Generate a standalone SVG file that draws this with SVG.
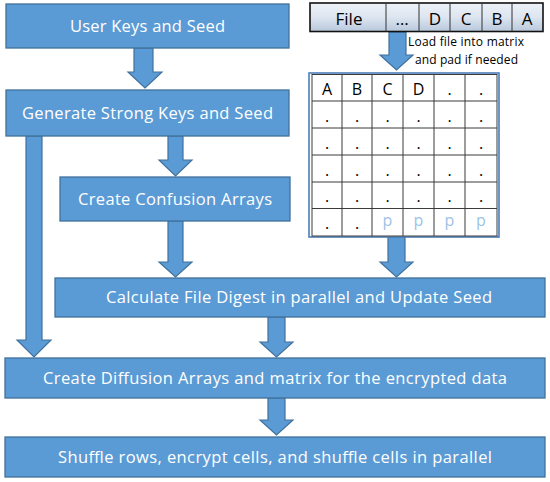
<svg xmlns="http://www.w3.org/2000/svg" width="550" height="482" viewBox="0 0 550 482">
<defs>
<linearGradient id="strip" x1="0" y1="0" x2="0" y2="1">
<stop offset="0" stop-color="#eef2f8"/>
<stop offset="0.5" stop-color="#dde5f0"/>
<stop offset="1" stop-color="#b9c8dc"/>
</linearGradient>
<style>
.box{fill:#5b9bd5;stroke:#41719c;stroke-width:1.3}
.arr{fill:#5b9bd5;stroke:#41719c;stroke-width:1.2}
.bt{font-family:"Open Sans","Liberation Sans",sans-serif;font-size:16.5px;fill:#ffffff;text-anchor:middle}
.st{font-family:"Open Sans","Liberation Sans",sans-serif;font-size:17px;fill:#000;text-anchor:middle}
.sm{font-family:"Open Sans","Liberation Sans",sans-serif;font-size:12px;fill:#000}
.mt{font-family:"Open Sans","Liberation Sans",sans-serif;font-size:16px;fill:#000;text-anchor:middle}
.pd{fill:#9dc3e6}
.grid{fill:none;stroke:#3a3a3a;stroke-width:1}
</style>
</defs>
<g id="connectors">
<path class="arr" d="M134,48 H153 V72 H162 L145,88 L128,72 H134 Z"/>
<path class="arr" d="M168,136 H183 V160 H192 L175.5,176 L159,160 H168 Z"/>
<path class="arr" d="M168,221 H183 V262 H192 L175.5,277 L159,262 H168 Z"/>
<path class="arr" d="M389,32 H406 V55 H413 L396.5,70 L380,55 H389 Z"/>
<path class="arr" d="M388,237 H405 V262 H413 L396.5,277 L380,262 H388 Z"/>
<path class="arr" d="M268,317 H285 V342 H293 L276.5,357 L260,342 H268 Z"/>
<path class="arr" d="M268,398 H285 V420 H293 L276.5,435 L260,420 H268 Z"/>
<path class="arr" d="M26,136 H42 V340 H51 L34,357 L17,340 H26 Z"/>
</g>
<g id="n1">
<rect class="box" x="6" y="4" width="283" height="44"/>
<text class="bt" x="147.5" y="32" textLength="155">User Keys and Seed</text>
</g>
<g id="n2">
<rect class="box" x="6" y="90" width="283" height="46"/>
<text class="bt" x="147.5" y="119" textLength="251">Generate Strong Keys and Seed</text>
</g>
<g id="n3">
<rect class="box" x="60" y="177" width="230" height="44"/>
<text class="bt" x="175" y="205" textLength="194">Create Confusion Arrays</text>
</g>
<g id="n4">
<rect class="box" x="55" y="278" width="490" height="39"/>
<text class="bt" x="299" y="303" textLength="386">Calculate File Digest in parallel and Update Seed</text>
</g>
<g id="n5">
<rect class="box" x="5" y="358" width="540" height="40"/>
<text class="bt" x="275" y="384" textLength="464">Create Diffusion Arrays and matrix for the encrypted data</text>
</g>
<g id="n6">
<rect class="box" x="5" y="437" width="540" height="40"/>
<text class="bt" x="275" y="463" textLength="434">Shuffle rows, encrypt cells, and shuffle cells in parallel</text>
</g>
<g id="file">
<rect x="310" y="3" width="233" height="28.5" fill="url(#strip)" stroke="#111" stroke-width="1.6"/>
<path d="M386,3 V31.5 M419,3 V31.5 M450,3 V31.5 M482,3 V31.5 M512,3 V31.5" stroke="#333" stroke-width="1"/>
<text class="st" x="349" y="25">File</text>
<text class="st" x="402" y="25">…</text>
<text class="st" x="435" y="25">D</text>
<text class="st" x="466" y="25">C</text>
<text class="st" x="497" y="25">B</text>
<text class="st" x="527" y="25">A</text>
</g>
<g id="label">
<text class="sm" x="408" y="46" textLength="116">Load file into matrix</text>
<text class="sm" x="415" y="64" textLength="103">and pad if needed</text>
</g>
<g id="matrix">
<rect x="309" y="73" width="190" height="164" fill="#fff" stroke="#4a7ebb" stroke-width="1.6"/>
<rect class="grid" x="312" y="74.5" width="185" height="161.5"/>
<path class="grid" d="M342,74.5 V236 M372,74.5 V236 M403,74.5 V236 M434,74.5 V236 M465,74.5 V236 M312,101 H497 M312,128 H497 M312,155 H497 M312,182 H497 M312,208.5 H497"/>
<g class="mt">
<text x="327" y="95">A</text><text x="357" y="95">B</text><text x="387.5" y="95">C</text><text x="418.5" y="95">D</text><text x="449.5" y="95">.</text><text x="481" y="95">.</text>
<text x="327" y="122">.</text><text x="357" y="122">.</text><text x="387.5" y="122">.</text><text x="418.5" y="122">.</text><text x="449.5" y="122">.</text><text x="481" y="122">.</text>
<text x="327" y="149">.</text><text x="357" y="149">.</text><text x="387.5" y="149">.</text><text x="418.5" y="149">.</text><text x="449.5" y="149">.</text><text x="481" y="149">.</text>
<text x="327" y="176">.</text><text x="357" y="176">.</text><text x="387.5" y="176">.</text><text x="418.5" y="176">.</text><text x="449.5" y="176">.</text><text x="481" y="176">.</text>
<text x="327" y="202">.</text><text x="357" y="202">.</text><text x="387.5" y="202">.</text><text x="418.5" y="202">.</text><text x="449.5" y="202">.</text><text x="481" y="202">.</text>
<text x="327" y="229">.</text><text x="357" y="229">.</text><text class="pd" x="387.5" y="226">p</text><text class="pd" x="418.5" y="226">p</text><text class="pd" x="449.5" y="226">p</text><text class="pd" x="481" y="226">p</text>
</g>
</g>
</svg>
